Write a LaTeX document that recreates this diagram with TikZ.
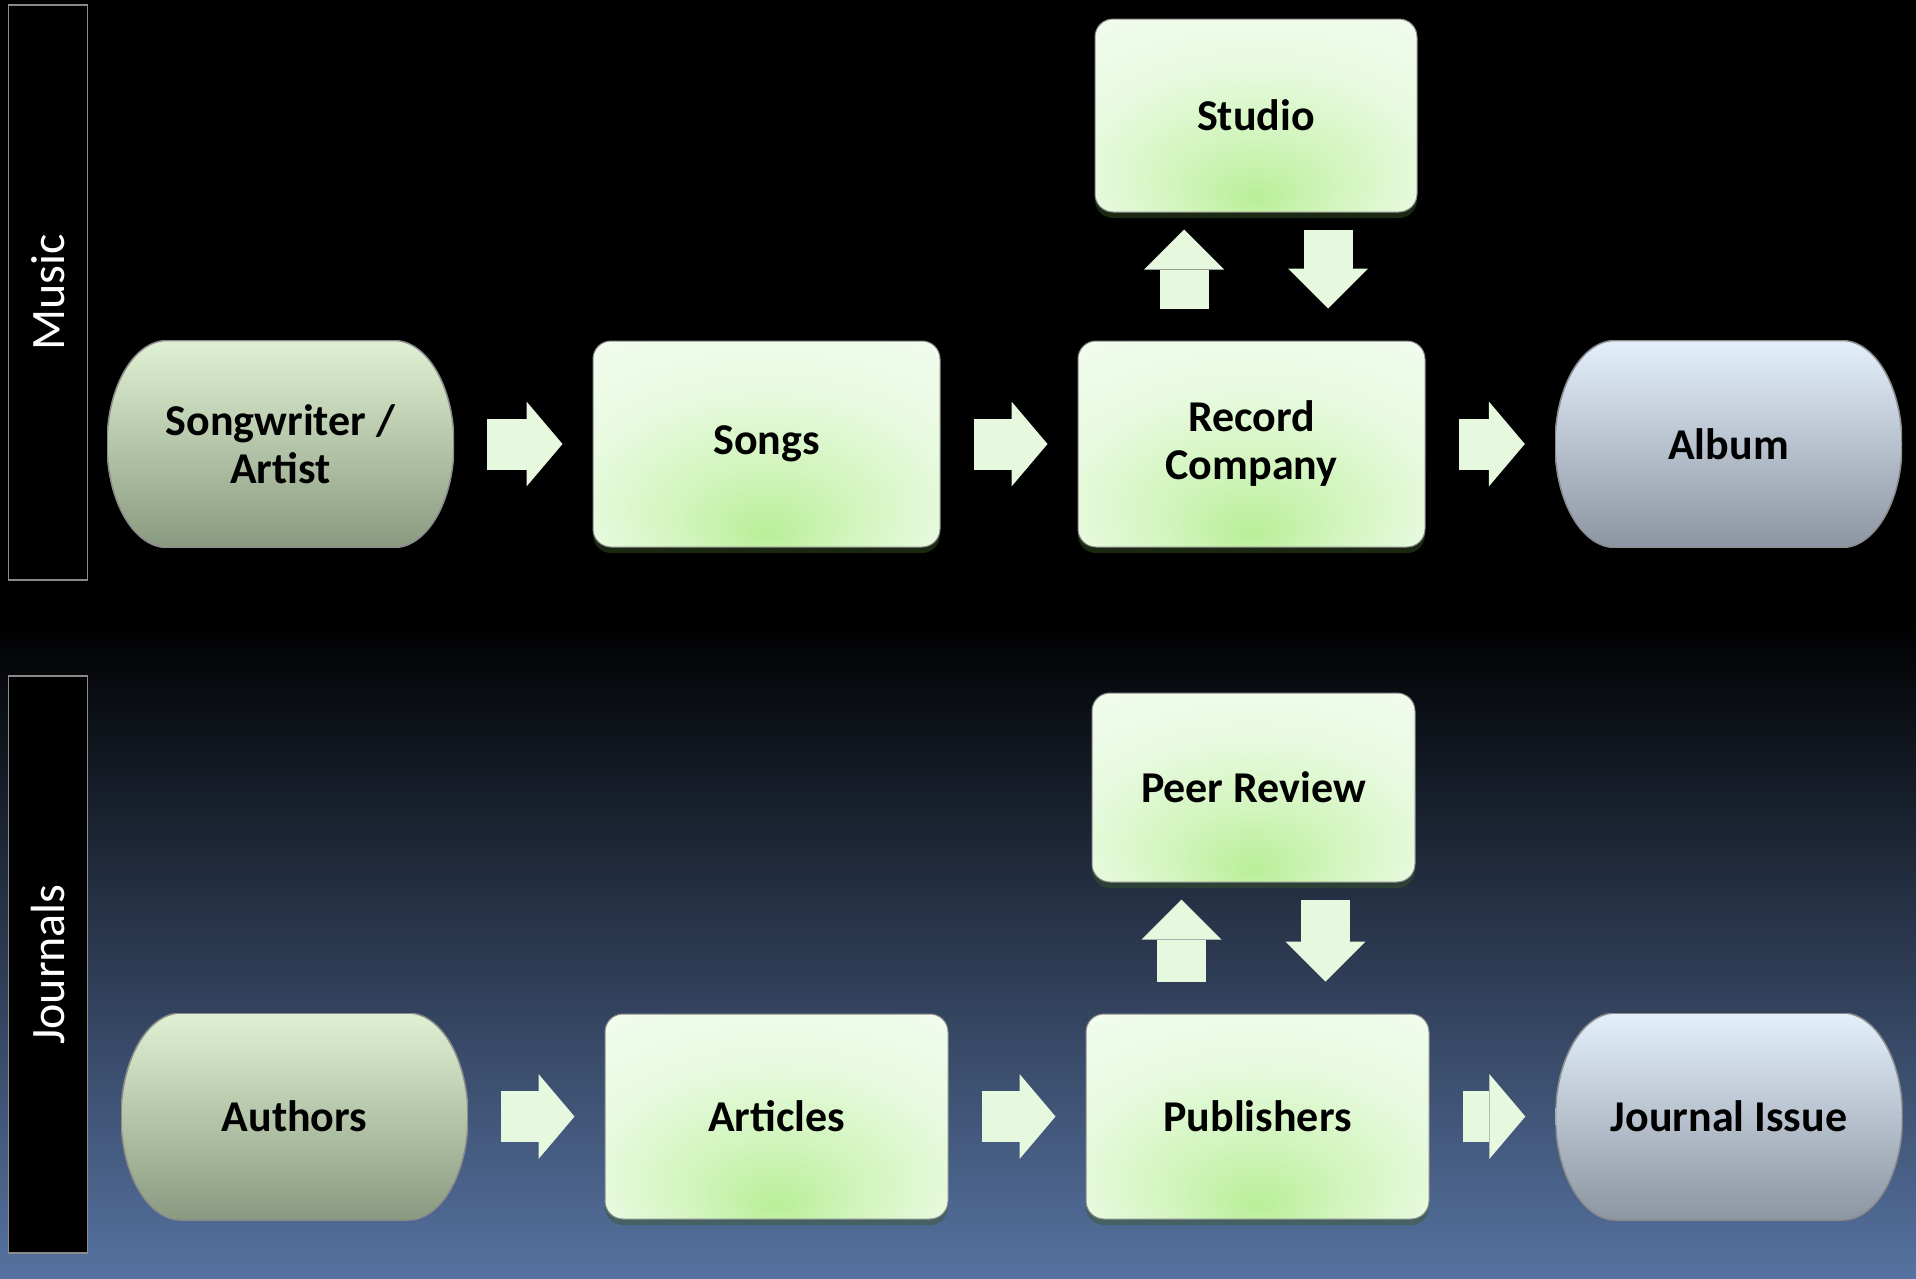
\documentclass[tikz,border=0pt]{standalone}
\usepackage{fontspec}
\setmainfont{Carlito}
\usetikzlibrary{arrows.meta,shadows}

\definecolor{bgblue}{HTML}{5672A0}
\definecolor{glowin}{HTML}{BAEE98}
\definecolor{glowmid}{HTML}{D2F5BE}
\definecolor{glowout}{HTML}{E8FAE0}
\definecolor{glowtop}{HTML}{F3FCEF}
\definecolor{boxline}{HTML}{8C8C8C}
\definecolor{boxshade}{HTML}{3A5A2A}
\definecolor{arrowfill}{HTML}{E6F8DE}
\definecolor{sagetop}{HTML}{E0F1D3}
\definecolor{sagebot}{HTML}{8A9A80}
\definecolor{steeltop}{HTML}{E3EFFA}
\definecolor{steelbot}{HTML}{8C96A3}
\definecolor{barline}{HTML}{8A8A8A}

\pgfdeclareverticalshading{backdrop}{100bp}{color(0bp)=(bgblue); color(25bp)=(bgblue); color(50.7bp)=(black); color(100bp)=(black)}
\pgfdeclareradialshading{greenglow}{\pgfpoint{0bp}{-22bp}}{color(0bp)=(glowin); color(13bp)=(glowmid); color(27bp)=(glowout); color(44bp)=(glowtop); color(70bp)=(glowtop)}

\newcommand\boxfont{\fontsize{44}{48}\selectfont\bfseries}
\newcommand\sidefont{\fontsize{48}{52}\selectfont}

\tikzset{
 box/.style={shade,shading=greenglow,draw=boxline,line width=1pt,rounded corners=18pt,
  minimum width=347pt,minimum height=206pt,align=center,font=\boxfont,
  drop shadow={shadow xshift=0pt,shadow yshift=-6pt,fill=boxshade,opacity=.45}},
 ends/.style 2 args={minimum width=347pt,minimum height=207pt,align=center,font=\boxfont,
  path picture={\shade[top color=#1,bottom color=#2,draw=boxline,line width=1.5pt]
   ([xshift=60pt]path picture bounding box.north west)
   -- ([xshift=-60pt]path picture bounding box.north east)
   arc[start angle=90,end angle=-90,x radius=60pt,y radius=103.5pt]
   -- ([xshift=60pt]path picture bounding box.south west)
   arc[start angle=270,end angle=90,x radius=60pt,y radius=103.5pt] -- cycle;}},
 sidebar/.style={fill=black,draw=barline,line width=1.5pt,rotate=90,minimum height=79pt,
  text=white,font=\sidefont},
 flow/.style={draw=arrowfill,line width=51pt,
  -{Triangle[length=36pt,width=85pt,line width=0pt]},shorten <=33pt,shorten >=30pt},
 up/.style={draw=arrowfill,line width=49pt,
  -{Triangle[length=40pt,width=80pt,line width=0pt]},shorten <=32pt,shorten >=17pt},
 down/.style={draw=arrowfill,line width=49pt,
  -{Triangle[length=40pt,width=80pt,line width=0pt]},shorten <=17pt,shorten >=32pt}
}

\begin{document}
\begin{tikzpicture}[x=1pt,y=-1pt]
 \useasboundingbox (0,0) rectangle (1916,1278);
 \shade[shading=backdrop] (0,0) rectangle (1916,1278);

 \node[sidebar,minimum width=575pt] (music) at (48,292.5) {Music};
 \node[sidebar,minimum width=577pt] (journals) at (48,964.5) {Journals};

 \node[ends={sagetop}{sagebot}] (artist) at (280.5,444) {Songwriter /\\Artist};
 \node[box] (songs) at (766.5,444) {Songs};
 \node[box] (record) at (1251.5,444) {Record\\Company};
 \node[ends={steeltop}{steelbot}] (album) at (1728.5,444) {Album};
 \node[box,minimum width=322pt,minimum height=193pt] (studio) at (1256,115.5) {Studio};

 \node[ends={sagetop}{sagebot}] (authors) at (294.5,1116.5) {Authors};
 \node[box,minimum width=343pt,minimum height=205pt] (articles) at (776.5,1116.5) {Articles};
 \node[box,minimum width=343pt,minimum height=205pt] (publishers) at (1257.5,1116.5) {Publishers};
 \node[ends={steeltop}{steelbot}] (issue) at (1729,1116.5) {Journal Issue};
 \node[box,minimum width=323pt,minimum height=189pt] (review) at (1253.5,787.5) {Peer Review};

 \draw[flow] (artist) -- (songs);
 \draw[flow] (songs) -- (record);
 \draw[flow] (record) -- (album);
 \draw[flow] (authors) -- (articles);
 \draw[flow] (articles) -- (publishers);
 \draw[flow] (publishers) -- (issue);

 \coordinate (su) at ([xshift=-72pt]studio.south);
 \coordinate (sd) at ([xshift=72pt]studio.south);
 \draw[up] (su |- record.north) -- (su);
 \draw[down] (sd) -- (sd |- record.north);

 \coordinate (ru) at ([xshift=-72pt]review.south);
 \coordinate (rd) at ([xshift=72pt]review.south);
 \draw[up] (ru |- publishers.north) -- (ru);
 \draw[down] (rd) -- (rd |- publishers.north);
\end{tikzpicture}
\end{document}
